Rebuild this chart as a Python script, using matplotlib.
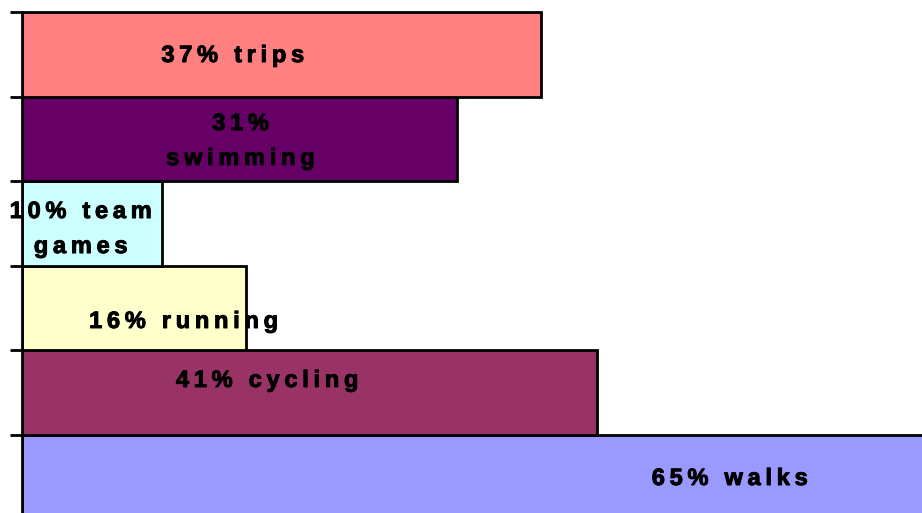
import matplotlib.pyplot as plt
import matplotlib.patheffects as pe

# activities, bottom to top
activities = ['walks', 'cycling', 'running', 'team games', 'swimming', 'trips']
percent = [65, 41, 16, 10, 31, 37]
label_lines = [
    ['65% walks'],
    ['41% cycling'],
    ['16% running'],
    ['10% team', 'games'],
    ['31%', 'swimming'],
    ['37% trips'],
]
colors = ['#9999FF', '#993366', '#FFFFCC', '#CCFFFF', '#660066', '#FF8080']

# label placement (x in data units, baseline offsets from bar centre)
label_x = [50.5, 17.5, 11.55, 4.2, 15.6, 15.05]
label_dy = [[-0.091], [0.068], [-0.235], [0.065, -0.349], [0.105, -0.308], [-0.091]]


def spaced(s):
    # imitate the wide letter spacing of the original
    return '\u2009'.join(s)


fig = plt.figure(figsize=(9.22, 5.13), dpi=100)
ax = fig.add_axes([22 / 922, 0, 1 - 22 / 922, 1])

pos = list(range(len(activities)))
ax.barh(pos, percent, height=1.0, color=colors, edgecolor='black', linewidth=2)

for i in pos:
    for line, dy in zip(label_lines[i], label_dy[i]):
        ax.text(label_x[i], i + dy, spaced(line), ha='center', va='baseline',
                fontsize=17, fontweight='bold', color='black',
                family=['Liberation Sans', 'DejaVu Sans'],
                path_effects=[pe.withStroke(linewidth=0.7, foreground='black')])

ax.set_xlim(0, 64.2)
ax.set_ylim(-0.422, 5.642)
ax.set_xticks([])
ax.set_yticks([p + 0.5 for p in pos])
ax.set_yticklabels([])
ax.tick_params(axis='y', direction='out', length=8.6, width=2)
for side in ['top', 'right', 'bottom']:
    ax.spines[side].set_visible(False)
ax.spines['left'].set_linewidth(2)
ax.spines['left'].set_bounds(-0.422, 5.5)

fig.savefig('out.png', dpi=100)
